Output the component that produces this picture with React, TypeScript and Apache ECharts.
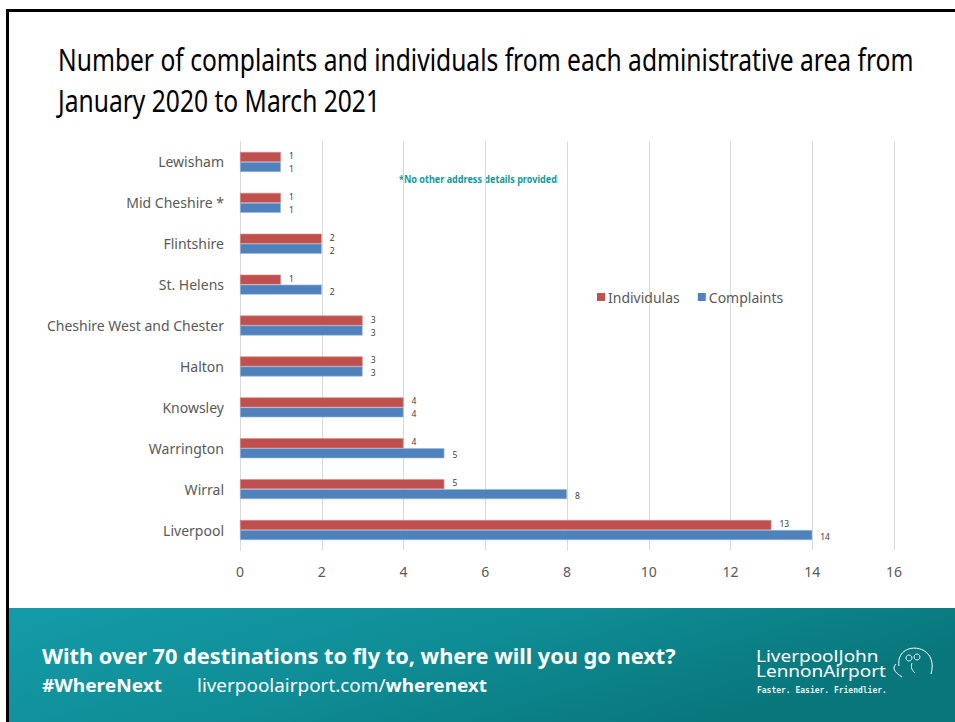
import React, { useEffect, useRef } from "react";
import * as echarts from "echarts";

const categories = [
  "Lewisham",
  "Mid Cheshire *",
  "Flintshire",
  "St. Helens",
  "Cheshire West and Chester",
  "Halton",
  "Knowsley",
  "Warrington",
  "Wirral",
  "Liverpool",
];
const individuals = [1, 1, 2, 1, 3, 3, 4, 4, 5, 13];
const complaints = [1, 1, 2, 2, 3, 3, 4, 5, 8, 14];
const seriesNames = ["Individulas", "Complaints"];

const titleLines = [
  "Number of complaints and individuals from each administrative area from",
  "January 2020 to March 2021",
];
const noteText = "*No other address details provided";
const footerLine1 = "With over 70 destinations to fly to, where will you go next?";
const footerTag = "#WhereNext";
const footerUrl = "liverpoolairport.com/";
const footerUrlBold = "wherenext";
const logoLines = ["LiverpoolJohn", "LennonAirport"];
const logoTagline = "Faster. Easier. Friendlier.";

function measure(text: string, font: string): number {
  const c = document.createElement("canvas").getContext("2d");
  if (!c) return text.length * 8;
  c.font = font;
  return c.measureText(text).width;
}

export default function App() {
  const ref = useRef<HTMLDivElement>(null);
  useEffect(() => {
    document.body.style.margin = "0";
    if (!ref.current) return;
    const chart = echarts.init(ref.current, null, { renderer: "svg" });

    const titleFont = 'normal 30px "Noto Sans"';
    const titleScale = 856 / measure(titleLines[0], titleFont);

    const noteFont = 'bold 11px "Noto Sans"';
    const noteScale = 158 / measure(noteText, noteFont);

    const f1Font = 'bold 22px "Noto Sans"';
    const f1Scale = 634 / measure(footerLine1, f1Font);

    const f2Bold = 'bold 18px "Noto Sans"';
    const f2Reg = 'normal 18px "Noto Sans"';
    const tagScale = 120 / measure(footerTag, f2Bold);
    const urlW = measure(footerUrl, f2Reg);
    const urlBW = measure(footerUrlBold, f2Bold);
    const urlScale = 290 / (urlW + urlBW);

    const logoFont = 'normal 17px "Noto Sans"';
    const logoScale = 130 / measure(logoLines[1], logoFont);
    const tagFont = 'bold 9px "DejaVu Sans Mono"';
    const taglineScale = 130 / measure(logoTagline, tagFont);

    const valueLabel = (dy: number) => ({
      show: true,
      position: "right",
      distance: 8,
      offset: [0, dy],
      fontSize: 8.5,
      lineHeight: 8.5,
      color: "#404040",
      fontFamily: "Noto Sans",
    });

    const option: any = {
      animation: false,
      backgroundColor: "#ffffff",
      textStyle: { fontFamily: "Noto Sans" },
      grid: {
        left: 240,
        right: 61,
        top: 141.5,
        bottom: 171.5,
        containLabel: false,
        outerBoundsMode: "none",
      },
      legend: {
        data: seriesNames,
        left: 597,
        top: 290,
        padding: 0,
        itemWidth: 8,
        itemHeight: 8,
        itemGap: 18,
        icon: "rect",
        itemStyle: { borderWidth: 0 },
        textStyle: { fontSize: 14, color: "#595959", fontFamily: "Noto Sans", padding: [0, 0, 0, -2] },
      },
      xAxis: {
        type: "value",
        min: 0,
        max: 16,
        interval: 2,
        axisLine: { show: false },
        axisTick: { show: false },
        splitLine: { show: true, lineStyle: { color: "#d9d9d9", width: 1 } },
        axisLabel: { color: "#595959", fontSize: 14, margin: 14, fontFamily: "Noto Sans" },
      },
      yAxis: {
        type: "category",
        data: categories,
        inverse: true,
        axisLine: { show: true, lineStyle: { color: "#d9d9d9" } },
        axisTick: { show: false },
        axisLabel: { color: "#595959", fontSize: 14, margin: 16, fontFamily: "Noto Sans" },
      },
      series: [
        {
          name: seriesNames[0],
          type: "bar",
          data: individuals,
          barWidth: 10,
          barGap: "0%",
          itemStyle: { color: "#C0504D", borderColor: "#d98a88", borderWidth: 0.6 },
          label: valueLabel(-1.5),
        },
        {
          name: seriesNames[1],
          type: "bar",
          data: complaints,
          barWidth: 10,
          barGap: "0%",
          itemStyle: { color: "#4F81BD", borderColor: "#9bb7dd", borderWidth: 0.6 },
          label: valueLabel(1.5),
        },
      ],
      graphic: [
        {
          type: "rect",
          z: -10,
          shape: { x: 9, y: 608, width: 946, height: 114 },
          style: {
            fill: new echarts.graphic.LinearGradient(0, 0, 1, 0.4, [
              { offset: 0, color: "#149ca8" },
              { offset: 0.5, color: "#0f8d96" },
              { offset: 1, color: "#08767b" },
            ]),
          },
        },
        {
          type: "line",
          shape: { x1: 6, y1: 10.5, x2: 955, y2: 10.5 },
          style: { stroke: "#000", lineWidth: 3 },
        },
        {
          type: "line",
          shape: { x1: 7.5, y1: 9, x2: 7.5, y2: 722 },
          style: { stroke: "#000", lineWidth: 3 },
        },
        {
          type: "text",
          x: 58,
          y: 60,
          scaleX: titleScale,
          style: { text: titleLines[0], font: titleFont, fill: "#000", verticalAlign: "middle" },
        },
        {
          type: "text",
          x: 58,
          y: 101,
          scaleX: titleScale,
          style: { text: titleLines[1], font: titleFont, fill: "#000", verticalAlign: "middle" },
        },
        {
          type: "text",
          x: 399,
          y: 179,
          scaleX: noteScale,
          style: { text: noteText, font: noteFont, fill: "#14999b", verticalAlign: "middle" },
        },
        {
          type: "text",
          x: 42,
          y: 655,
          scaleX: f1Scale,
          style: { text: footerLine1, font: f1Font, fill: "#fff", verticalAlign: "middle" },
        },
        {
          type: "text",
          x: 42,
          y: 685,
          scaleX: tagScale,
          style: { text: footerTag, font: f2Bold, fill: "#fff", verticalAlign: "middle" },
        },
        {
          type: "text",
          x: 197,
          y: 685,
          scaleX: urlScale,
          style: { text: footerUrl, font: f2Reg, fill: "#fff", verticalAlign: "middle" },
        },
        {
          type: "text",
          x: 197 + urlW * urlScale,
          y: 685,
          scaleX: urlScale,
          style: { text: footerUrlBold, font: f2Bold, fill: "#fff", verticalAlign: "middle" },
        },
        {
          type: "text",
          x: 756,
          y: 655,
          scaleX: logoScale,
          style: { text: logoLines[0], font: logoFont, fill: "#fff", verticalAlign: "middle" },
        },
        {
          type: "text",
          x: 756,
          y: 670,
          scaleX: logoScale,
          style: { text: logoLines[1], font: logoFont, fill: "#fff", verticalAlign: "middle" },
        },
        {
          type: "text",
          x: 757,
          y: 690,
          scaleX: taglineScale,
          style: { text: logoTagline, font: tagFont, fill: "#e6f2f2", verticalAlign: "middle" },
        },
        {
          type: "bezierCurve",
          shape: { x1: 902, y1: 677, x2: 896, y2: 664, cpx1: 894, cpy1: 672, cpx2: 892, cpy2: 668 },
          style: { stroke: "#fff", lineWidth: 1, fill: null },
        },
        {
          type: "bezierCurve",
          shape: { x1: 899, y1: 666, x2: 931, y2: 674, cpx1: 895, cpy1: 640, cpx2: 940, cpy2: 642 },
          style: { stroke: "#fff", lineWidth: 1, fill: null },
        },
        {
          type: "circle",
          shape: { cx: 909, cy: 658, r: 3 },
          style: { stroke: "#fff", lineWidth: 0.9, fill: null },
        },
        {
          type: "circle",
          shape: { cx: 917, cy: 657, r: 3 },
          style: { stroke: "#fff", lineWidth: 0.9, fill: null },
        },
        {
          type: "bezierCurve",
          shape: { x1: 912, y1: 663, x2: 915, y2: 673, cpx1: 910, cpy1: 668, cpx2: 913, cpy2: 671 },
          style: { stroke: "#fff", lineWidth: 0.9, fill: null },
        },
      ],
    };

    chart.setOption(option);
    return () => chart.dispose();
  }, []);
  return <div ref={ref} style={{ width: 955, height: 722 }} />;
}
